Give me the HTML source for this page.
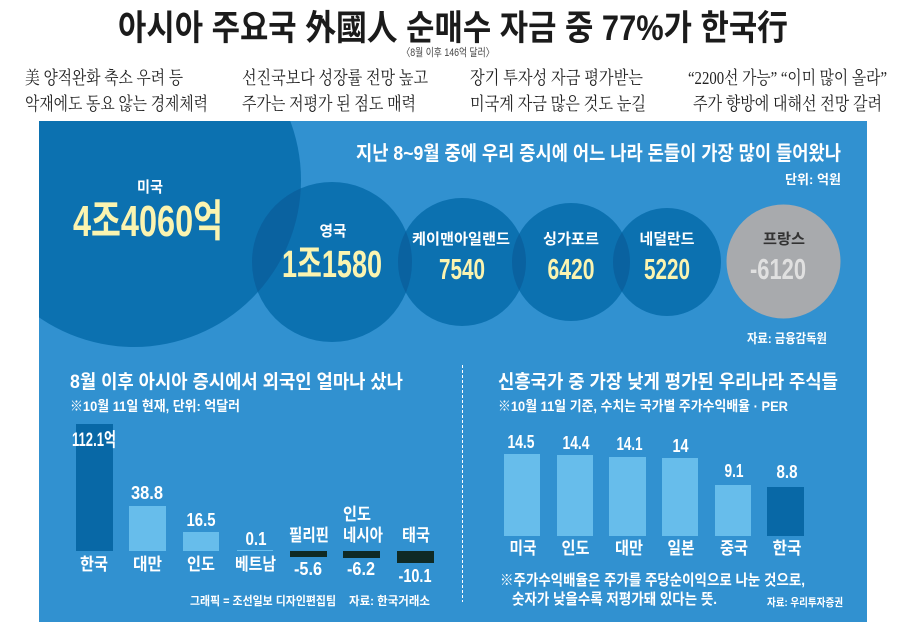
<!DOCTYPE html>
<html><head><meta charset="utf-8"><style>
html,body{margin:0;padding:0;background:#fff;}
svg{display:block;}
.s{font-family:"Liberation Sans","Noto Sans CJK KR",sans-serif;}
.r{font-family:"Liberation Serif","Noto Serif CJK SC",serif;}
</style></head><body>
<svg width="910" height="628" viewBox="0 0 910 628" xmlns="http://www.w3.org/2000/svg">
<defs>
<clipPath id="panel"><rect x="39" y="121" width="828" height="501"/></clipPath>
<clipPath id="cUS"><circle cx="134" cy="180" r="167"/></clipPath>
<clipPath id="cUK"><circle cx="332" cy="262" r="80"/></clipPath>
<clipPath id="cKY"><circle cx="462" cy="262" r="64"/></clipPath>
<clipPath id="cSG"><circle cx="571" cy="262" r="59"/></clipPath>
</defs>
<rect width="910" height="628" fill="#fff"/>
<!-- Title -->
<text class="s" x="118" y="40" font-size="35" font-weight="bold" fill="#1b1b1b" textLength="670" lengthAdjust="spacingAndGlyphs">아시아 주요국 外國人 순매수 자금 중 77%가 한국行</text>
<text class="s" x="448" y="56" font-size="11" fill="#444" text-anchor="middle" textLength="93" lengthAdjust="spacingAndGlyphs">〈8월 이후 146억 달러〉</text>
<!-- Subheads -->
<g class="r" font-size="18" fill="#222">
<text x="25" y="84" textLength="158" lengthAdjust="spacingAndGlyphs">美 양적완화 축소 우려 등</text>
<text x="25" y="110" textLength="183" lengthAdjust="spacingAndGlyphs">악재에도 동요 않는 경제체력</text>
<text x="242" y="84" textLength="186" lengthAdjust="spacingAndGlyphs">선진국보다 성장률 전망 높고</text>
<text x="242" y="110" textLength="174" lengthAdjust="spacingAndGlyphs">주가는 저평가 된 점도 매력</text>
<text x="470" y="84" textLength="173" lengthAdjust="spacingAndGlyphs">장기 투자성 자금 평가받는</text>
<text x="470" y="110" textLength="176" lengthAdjust="spacingAndGlyphs">미국계 자금 많은 것도 눈길</text>
<text x="688" y="84" textLength="199" lengthAdjust="spacingAndGlyphs">“2200선 가능” “이미 많이 올라”</text>
<text x="693" y="110" textLength="189" lengthAdjust="spacingAndGlyphs">주가 향방에 대해선 전망 갈려</text>
</g>
<!-- Panel -->
<rect x="39" y="121" width="828" height="501" fill="#3191d0"/>
<g clip-path="url(#panel)">
<circle cx="134" cy="180" r="167" fill="#0c71b0"/>
<circle cx="332" cy="262" r="80" fill="#0c71b0"/>
<circle cx="462" cy="262" r="64" fill="#0c71b0"/>
<circle cx="571" cy="262" r="59" fill="#0c71b0"/>
<circle cx="667" cy="262" r="54" fill="#0c71b0"/>
<circle cx="783.5" cy="261.5" r="57" fill="#a8aaad"/>
<circle cx="332" cy="262" r="80" fill="#0a62a0" clip-path="url(#cUS)"/>
<circle cx="462" cy="262" r="64" fill="#0a62a0" clip-path="url(#cUK)"/>
<circle cx="571" cy="262" r="59" fill="#0a62a0" clip-path="url(#cKY)"/>
<circle cx="667" cy="262" r="54" fill="#0a62a0" clip-path="url(#cSG)"/>
</g>
<!-- Upper texts -->
<g class="s" fill="#fff" font-weight="bold">
<text x="356" y="160" font-size="20" textLength="485" lengthAdjust="spacingAndGlyphs">지난 8~9월 중에 우리 증시에 어느 나라 돈들이 가장 많이 들어왔나</text>
<text x="841" y="184" font-size="13" text-anchor="end" textLength="56" lengthAdjust="spacingAndGlyphs">단위: 억원</text>
<text x="150" y="192" font-size="15" text-anchor="middle" textLength="26" lengthAdjust="spacingAndGlyphs">미국</text>
<text x="333" y="236" font-size="15" text-anchor="middle" textLength="27" lengthAdjust="spacingAndGlyphs">영국</text>
<text x="461" y="244" font-size="15" text-anchor="middle" textLength="98" lengthAdjust="spacingAndGlyphs">케이맨아일랜드</text>
<text x="571" y="244" font-size="15" text-anchor="middle" textLength="56" lengthAdjust="spacingAndGlyphs">싱가포르</text>
<text x="667" y="244" font-size="15" text-anchor="middle" textLength="55" lengthAdjust="spacingAndGlyphs">네덜란드</text>
<text x="784" y="244" font-size="15" text-anchor="middle" fill="#333" textLength="42" lengthAdjust="spacingAndGlyphs">프랑스</text>
<text x="747" y="343" font-size="13" textLength="80" lengthAdjust="spacingAndGlyphs">자료: 금융감독원</text>
</g>
<g class="s" fill="#fbf4b0" font-weight="bold">
<text x="73" y="236" font-size="44" textLength="150" lengthAdjust="spacingAndGlyphs">4조4060억</text>
<text x="282" y="277" font-size="38" textLength="100" lengthAdjust="spacingAndGlyphs">1조1580</text>
<text x="462" y="279" font-size="29" text-anchor="middle" textLength="46" lengthAdjust="spacingAndGlyphs">7540</text>
<text x="571" y="279" font-size="29" text-anchor="middle" textLength="47" lengthAdjust="spacingAndGlyphs">6420</text>
<text x="667" y="279" font-size="29" text-anchor="middle" textLength="46" lengthAdjust="spacingAndGlyphs">5220</text>
<text x="778" y="279" font-size="29" text-anchor="middle" fill="#e0e0e0" textLength="56" lengthAdjust="spacingAndGlyphs">-6120</text>
</g>
<!-- Divider -->
<line x1="462.5" y1="365" x2="462.5" y2="602" stroke="#fff" stroke-width="1" stroke-dasharray="3,2"/>
<!-- Left chart -->
<g class="s" fill="#fff" font-weight="bold">
<text x="70" y="388" font-size="19" textLength="333" lengthAdjust="spacingAndGlyphs">8월 이후 아시아 증시에서 외국인 얼마나 샀나</text>
<text x="70" y="411" font-size="14" textLength="170" lengthAdjust="spacingAndGlyphs">※10월 11일 현재, 단위: 억달러</text>
</g>
<rect x="76" y="424" width="37" height="127" fill="#0868a6"/>
<rect x="129" y="506" width="37" height="45" fill="#67bdeb"/>
<rect x="183" y="532" width="36" height="19" fill="#67bdeb"/>
<rect x="237" y="550" width="36" height="1" fill="#67bdeb"/>
<rect x="290" y="551" width="37" height="6" fill="#0f2a25"/>
<rect x="343" y="551" width="37" height="7" fill="#0f2a25"/>
<rect x="397" y="551" width="37" height="12" fill="#0f2a25"/>
<g class="s" fill="#fff" font-weight="bold">
<text x="72" y="446" font-size="19" textLength="44" lengthAdjust="spacingAndGlyphs">112.1억</text>
<text x="147" y="499" font-size="18" text-anchor="middle" textLength="32" lengthAdjust="spacingAndGlyphs">38.8</text>
<text x="201" y="526" font-size="18" text-anchor="middle" textLength="29" lengthAdjust="spacingAndGlyphs">16.5</text>
<text x="256" y="545" font-size="18" text-anchor="middle" textLength="21" lengthAdjust="spacingAndGlyphs">0.1</text>
<text x="94" y="570" font-size="17" text-anchor="middle" textLength="28" lengthAdjust="spacingAndGlyphs">한국</text>
<text x="147.5" y="570" font-size="17" text-anchor="middle" textLength="29" lengthAdjust="spacingAndGlyphs">대만</text>
<text x="201" y="570" font-size="17" text-anchor="middle" textLength="28" lengthAdjust="spacingAndGlyphs">인도</text>
<text x="255.5" y="570" font-size="17" text-anchor="middle" textLength="41" lengthAdjust="spacingAndGlyphs">베트남</text>
<text x="309" y="541" font-size="17" text-anchor="middle" textLength="40" lengthAdjust="spacingAndGlyphs">필리핀</text>
<text x="343" y="520" font-size="17" textLength="28" lengthAdjust="spacingAndGlyphs">인도</text>
<text x="343" y="541" font-size="17" textLength="40" lengthAdjust="spacingAndGlyphs">네시아</text>
<text x="416" y="541" font-size="17" text-anchor="middle" textLength="28" lengthAdjust="spacingAndGlyphs">태국</text>
<text x="308" y="575" font-size="18" text-anchor="middle" textLength="28" lengthAdjust="spacingAndGlyphs">-5.6</text>
<text x="361" y="575" font-size="18" text-anchor="middle" textLength="28" lengthAdjust="spacingAndGlyphs">-6.2</text>
<text x="415" y="582" font-size="18" text-anchor="middle" textLength="33" lengthAdjust="spacingAndGlyphs">-10.1</text>
<text x="190" y="605" font-size="12" textLength="146" lengthAdjust="spacingAndGlyphs">그래픽 = 조선일보 디자인편집팀</text>
<text x="349" y="605" font-size="12" textLength="81" lengthAdjust="spacingAndGlyphs">자료: 한국거래소</text>
</g>
<!-- Right chart -->
<g class="s" fill="#fff" font-weight="bold">
<text x="498" y="388" font-size="19" textLength="340" lengthAdjust="spacingAndGlyphs">신흥국가 중 가장 낮게 평가된 우리나라 주식들</text>
<text x="498" y="411" font-size="14" textLength="290" lengthAdjust="spacingAndGlyphs">※10월 11일 기준, 수치는 국가별 주가수익배율 · PER</text>
</g>
<rect x="504" y="454" width="36" height="82" fill="#67bdeb"/>
<rect x="557" y="455" width="36" height="81" fill="#67bdeb"/>
<rect x="609" y="457" width="37" height="79" fill="#67bdeb"/>
<rect x="662" y="458" width="36" height="78" fill="#67bdeb"/>
<rect x="715" y="485" width="36" height="51" fill="#67bdeb"/>
<rect x="767" y="487" width="37" height="49" fill="#0868a6"/>
<g class="s" fill="#fff" font-weight="bold">
<text x="521" y="448" font-size="18" text-anchor="middle" textLength="27" lengthAdjust="spacingAndGlyphs">14.5</text>
<text x="576" y="449" font-size="18" text-anchor="middle" textLength="27" lengthAdjust="spacingAndGlyphs">14.4</text>
<text x="629.5" y="450" font-size="18" text-anchor="middle" textLength="26" lengthAdjust="spacingAndGlyphs">14.1</text>
<text x="680.5" y="452" font-size="18" text-anchor="middle" textLength="16" lengthAdjust="spacingAndGlyphs">14</text>
<text x="734" y="477" font-size="18" text-anchor="middle" textLength="19" lengthAdjust="spacingAndGlyphs">9.1</text>
<text x="787" y="478" font-size="18" text-anchor="middle" textLength="21" lengthAdjust="spacingAndGlyphs">8.8</text>
<text x="523" y="554" font-size="17" text-anchor="middle" textLength="27" lengthAdjust="spacingAndGlyphs">미국</text>
<text x="575.5" y="554" font-size="17" text-anchor="middle" textLength="28" lengthAdjust="spacingAndGlyphs">인도</text>
<text x="629" y="554" font-size="17" text-anchor="middle" textLength="28" lengthAdjust="spacingAndGlyphs">대만</text>
<text x="681" y="554" font-size="17" text-anchor="middle" textLength="27" lengthAdjust="spacingAndGlyphs">일본</text>
<text x="734" y="554" font-size="17" text-anchor="middle" textLength="28" lengthAdjust="spacingAndGlyphs">중국</text>
<text x="787" y="554" font-size="17" text-anchor="middle" textLength="29" lengthAdjust="spacingAndGlyphs">한국</text>
<text x="500" y="585" font-size="15" textLength="305" lengthAdjust="spacingAndGlyphs">※주가수익배율은 주가를 주당순이익으로 나눈 것으로,</text>
<text x="512" y="604" font-size="15" textLength="205" lengthAdjust="spacingAndGlyphs">숫자가 낮을수록 저평가돼 있다는 뜻.</text>
<text x="767" y="606" font-size="11" textLength="76" lengthAdjust="spacingAndGlyphs">자료: 우리투자증권</text>
</g>
</svg>
</body></html>
